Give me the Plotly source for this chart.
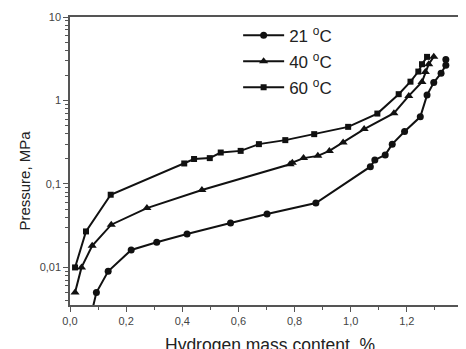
import plotly.graph_objects as go

# ---- data ----
t21_x = [0.073, 0.094, 0.136, 0.218, 0.309, 0.417, 0.572, 0.702, 0.876, 1.070,
         1.086, 1.123, 1.148, 1.192, 1.248, 1.272, 1.296, 1.322, 1.339, 1.339]
t21_y = [0.0025, 0.005, 0.009, 0.0162, 0.020, 0.0251, 0.034, 0.0436, 0.059, 0.161,
         0.194, 0.223, 0.30, 0.425, 0.637, 1.16, 1.64, 2.12, 2.65, 3.1]

t40_x = [0.018, 0.041, 0.079, 0.147, 0.274, 0.470, 0.784, 0.792, 0.832, 0.883,
         0.924, 0.973, 1.048, 1.154, 1.207, 1.254, 1.266, 1.278, 1.296]
t40_y = [0.005, 0.010, 0.0182, 0.0325, 0.0514, 0.0845, 0.172, 0.180, 0.204, 0.217,
         0.249, 0.314, 0.454, 0.705, 1.135, 1.67, 2.20, 2.72, 3.35]

t60_x = [0.018, 0.057, 0.145, 0.407, 0.442, 0.498, 0.537, 0.608, 0.673, 0.767,
         0.870, 0.991, 1.095, 1.171, 1.213, 1.241, 1.254, 1.272]
t60_y = [0.010, 0.027, 0.0743, 0.176, 0.199, 0.204, 0.238, 0.249, 0.30, 0.335,
         0.395, 0.483, 0.697, 1.19, 1.68, 2.22, 2.72, 3.33]

series_names = ["21 <sup>o</sup>C", "40 <sup>o</sup>C", "60 <sup>o</sup>C"]

y_tickvals = [0.01, 0.1, 1, 10]
y_ticktext = ["0,01", "0,1", "1", "10"]
x_tickvals = [0.0, 0.2, 0.4, 0.6, 0.8, 1.0, 1.2]
x_ticktext = ["0,0", "0,2", "0,4", "0,6", "0,8", "1,0", "1,2"]
x_extra_tick = 1.4
x_extra_text = "1,4"

x_title = "Hydrogen mass content, %"
y_title = "Pressure, MPa"

FONT = "Liberation Sans, Arial, sans-serif"
INK = "#111111"

fig = go.Figure()
for i, (xs, ys, name, sym, size) in enumerate([
    (t21_x, t21_y, series_names[0], "circle", 7),
    (t40_x, t40_y, series_names[1], "triangle-up", 8),
    (t60_x, t60_y, series_names[2], "square", 6),
]):
    fig.add_trace(go.Scatter(
        x=xs, y=ys, name=name, mode="lines+markers", legendgroup=f"g{i}",
        line=dict(color=INK, width=2),
        marker=dict(symbol=sym, size=size, color=INK),
        cliponaxis=True,
    ))

axis_common = dict(
    showline=True, mirror=True, linecolor="#555555", linewidth=1.5,
    showgrid=False, zeroline=False, ticks="outside", tickcolor="#555555",
    ticklen=5, tickwidth=1.2,
    tickfont=dict(family=FONT, size=11, color="#444444"),
)

fig.update_xaxes(
    range=[0, 1.393], tickvals=x_tickvals, ticktext=x_ticktext,
    minor=dict(ticks="outside", ticklen=3, dtick=0.1, tickcolor="#555555", tickwidth=1),
    **axis_common,
)
fig.update_yaxes(
    type="log", range=[-2.45, 1], tickvals=y_tickvals, ticktext=y_ticktext,
    minor=dict(ticks="outside", ticklen=3, dtick="D1", tickcolor="#555555", tickwidth=1),
    **axis_common,
)

fig.add_annotation(x=x_extra_tick, y=0, xref="x", yref="paper", text=x_extra_text,
                   showarrow=False, yanchor="top", yshift=-6,
                   font=dict(family=FONT, size=11, color="#444444"))
fig.add_annotation(x=0.511, y=-0.097, xref="paper", yref="paper", text=x_title,
                   showarrow=False, yanchor="top",
                   font=dict(family=FONT, size=17.5, color="#222222"))
fig.add_annotation(x=-0.115, y=0.432, xref="paper", yref="paper", text=y_title,
                   showarrow=False, textangle=-90, xanchor="center", yanchor="middle",
                   font=dict(family=FONT, size=15, color="#222222"))

# the page body adds an 8px offset; size the figure so the plot lands in place
fig.update_layout(
    width=458, height=341,
    margin=dict(l=62, r=3, t=8, b=44, pad=0),
    paper_bgcolor="white", plot_bgcolor="white",
    showlegend=True,
    legend=dict(x=0.43, y=0.998, xanchor="left", yanchor="top",
                bgcolor="rgba(0,0,0,0)", borderwidth=0,
                traceorder="grouped", tracegroupgap=1,
                font=dict(family=FONT, size=17, color="#222222"),
                itemwidth=41),
)

fig.write_html("out.html")
